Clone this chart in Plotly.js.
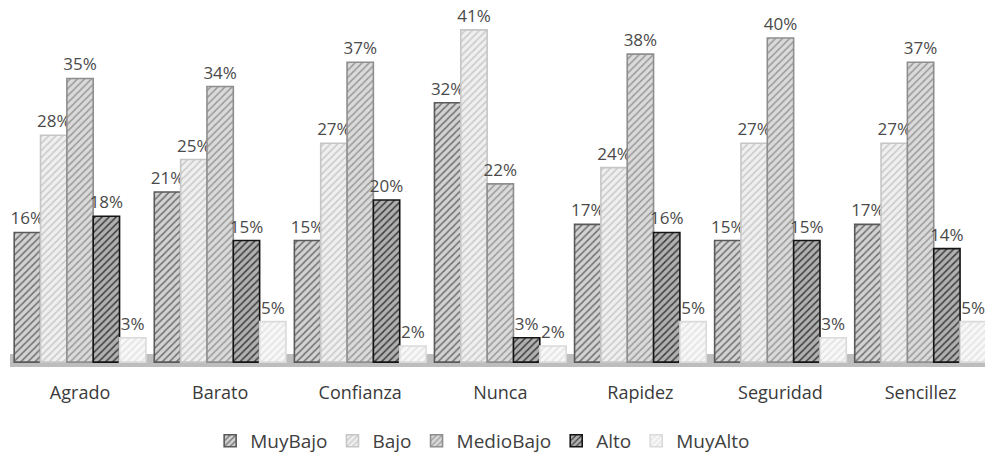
<!DOCTYPE html>
<html>
<head>
<meta charset="utf-8">
<script src="https://cdn.plot.ly/plotly-3.0.1.min.js"></script>
<style>
  html, body { margin: 0; padding: 0; background: #ffffff; }
  #chart { width: 985px; height: 455px; }
</style>
</head>
<body>
<div id="chart"></div>
<script>
// Attributes evaluated
const categories = ['Agrado', 'Barato', 'Confianza', 'Nunca', 'Rapidez', 'Seguridad', 'Sencillez'];

// Share of answers per level (%)
const muyBajo   = [16, 21, 15, 32, 17, 15, 17];
const bajo      = [28, 25, 27, 41, 24, 27, 27];
const medioBajo = [35, 34, 37, 22, 38, 40, 37];
const alto      = [18, 15, 20,  3, 16, 15, 14];
const muyAlto   = [ 3,  5,  2,  2,  5,  3,  5];

const seriesNames = ['MuyBajo', 'Bajo', 'MedioBajo', 'Alto', 'MuyAlto'];
const seriesValues = [muyBajo, bajo, medioBajo, alto, muyAlto];

// Hatched grey fills: background, hatch and outline colours per level
const fills = [
  { bg: '#d2d2d2', fg: '#5e5e5e', line: '#5a5a5a' },
  { bg: '#efefef', fg: '#c2c2c2', line: '#c6c6c6' },
  { bg: '#dadada', fg: '#8e8e8e', line: '#8e8e8e' },
  { bg: '#b0b0b0', fg: '#2a2a2a', line: '#141414' },
  { bg: '#f7f7f7', fg: '#dedede', line: '#dadada' }
];

const font = '"Open Sans", Lato, sans-serif';

const traces = seriesNames.map((name, i) => ({
  type: 'bar',
  name: name,
  x: categories,
  y: seriesValues[i],
  text: seriesValues[i].map(v => v + '%'),
  textposition: 'outside',
  constraintext: 'none',
  textfont: { family: font, size: 17, color: '#4a4a4a' },
  cliponaxis: false,
  hoverinfo: 'x+y+name',
  marker: {
    color: fills[i].bg,
    line: { color: fills[i].line, width: 1.6 },
    pattern: {
      shape: '/',
      fillmode: 'overlay',
      fgcolor: fills[i].fg,
      fgopacity: 0.85,
      size: 5,
      solidity: 0.3
    }
  }
}));

const layout = {
  width: 985,
  height: 455,
  margin: { l: 10, r: 0, t: 12, b: 88, autoexpand: false },
  paper_bgcolor: '#ffffff',
  plot_bgcolor: '#ffffff',
  barmode: 'group',
  bargap: 0.06,
  bargroupgap: 0,
  showlegend: true,
  legend: {
    orientation: 'h',
    xref: 'container', yref: 'container',
    x: 0.49, xanchor: 'center',
    y: 0.031, yanchor: 'middle',
    font: { family: font, size: 19, color: '#404040' },
    itemwidth: 30,
    traceorder: 'normal'
  },
  xaxis: {
    range: [-0.5, 6.46],
    showgrid: false,
    zeroline: false,
    showline: false,
    ticks: '',
    ticklabelstandoff: 13,
    tickfont: { family: font, size: 18, color: '#3a3a3a' },
    fixedrange: true
  },
  yaxis: {
    range: [-0.6, 43.2],
    visible: false,
    showgrid: false,
    zeroline: false,
    fixedrange: true
  },
  // floor band under the bars
  shapes: [{
    type: 'rect',
    layer: 'below',
    xref: 'paper', yref: 'y',
    x0: 0, x1: 1,
    y0: -0.6, y1: 1.0,
    fillcolor: '#bdbdbd',
    line: { width: 0 }
  }]
};

Plotly.newPlot('chart', traces, layout, { displayModeBar: false, staticPlot: true });
</script>
</body>
</html>
